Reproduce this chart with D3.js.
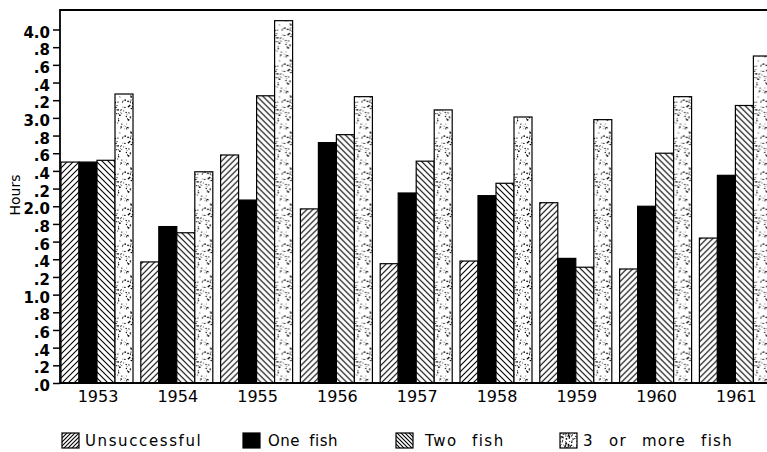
<!DOCTYPE html>
<html>
<head>
<meta charset="utf-8">
<script src="https://cdn.jsdelivr.net/npm/d3@7/dist/d3.min.js"></script>
<style>
  html, body { margin: 0; padding: 0; background: #fff; }
  svg { display: block; }
</style>
</head>
<body>
<svg id="chart" width="767" height="452"></svg>
<script>
// ---------- data ----------
const years = ["1953", "1954", "1955", "1956", "1957", "1958", "1959", "1960", "1961"];
const seriesNames = ["Unsuccessful", "One fish", "Two fish", "3 or more fish"];
const unsuccessful = [2.50, 1.37, 2.58, 1.97, 1.35, 1.38, 2.04, 1.29, 1.64];
const oneFish      = [2.50, 1.77, 2.07, 2.72, 2.15, 2.12, 1.41, 2.00, 2.35];
const twoFish      = [2.52, 1.70, 3.25, 2.81, 2.51, 2.26, 1.31, 2.60, 3.14];
const threeOrMore  = [3.27, 2.39, 4.10, 3.24, 3.09, 3.01, 2.98, 3.24, 3.70];
const yTickValues = [0, 0.2, 0.4, 0.6, 0.8, 1.0, 1.2, 1.4, 1.6, 1.8, 2.0, 2.2, 2.4, 2.6, 2.8, 3.0, 3.2, 3.4, 3.6, 3.8, 4.0];
const yTickLabels = [".0", ".2", ".4", ".6", ".8", "1.0", ".2", ".4", ".6", ".8", "2.0", ".2", ".4", ".6", ".8", "3.0", ".2", ".4", ".6", ".8", "4.0"];
const yAxisTitle = "Hours";

const seriesValues = [unsuccessful, oneFish, twoFish, threeOrMore];
const table = years.map((yr, i) => ({
  year: yr,
  values: seriesNames.map((s, k) => ({ series: s, value: seriesValues[k][i] }))
}));

// ---------- layout ----------
const W = 767, H = 452;
const axisX = 60, baseY = 383, topY = 10;
const svg = d3.select("#chart");
svg.append("rect").attr("width", W).attr("height", H).attr("fill", "#fff");

const x0 = d3.scaleBand().domain(years).range([61, 771.4]).paddingInner(0.0977).paddingOuter(0);
const x1 = d3.scaleBand().domain(seriesNames).range([0, x0.bandwidth()]).padding(0);
const y = d3.scaleLinear().domain([0, 4]).range([baseY, 29.5]);

// ---------- patterns ----------
const defs = svg.append("defs");
function hatch(id, dir, size) {
  const p = defs.append("pattern").attr("id", id).attr("patternUnits", "userSpaceOnUse")
    .attr("width", size).attr("height", size);
  p.append("rect").attr("width", size).attr("height", size).attr("fill", "#fff");
  const s = size;
  const d = dir === "up"
    ? `M-1,1 l2,-2 M0,${s} l${s},-${s} M${s-1},${s+1} l2,-2`
    : `M-1,${s-1} l2,2 M0,0 l${s},${s} M${s-1},-1 l2,2`;
  p.append("path").attr("d", d).attr("stroke", "#000").attr("stroke-width", 1.1).attr("fill", "none");
}
hatch("hatchUp", "up", 6);
hatch("hatchDown", "down", 6);
hatch("hatchUpSm", "up", 4);
hatch("hatchDownSm", "down", 4);

function stipple(id, size, count, seed) {
  const p = defs.append("pattern").attr("id", id).attr("patternUnits", "userSpaceOnUse")
    .attr("width", size).attr("height", size);
  p.append("rect").attr("width", size).attr("height", size).attr("fill", "#fff");
  let st = seed;
  const rnd = () => { st = (st * 1103515245 + 12345) % 2147483648; return st / 2147483648; };
  for (let i = 0; i < count; i++) {
    const cx = rnd() * size, cy = rnd() * size, r = 0.35 + rnd() * 0.55;
    if (rnd() < 0.2) {
      p.append("line").attr("x1", cx).attr("y1", cy).attr("x2", cx + (rnd() - 0.5) * 2.5).attr("y2", cy + 1 + rnd() * 2)
        .attr("stroke", "#000").attr("stroke-width", 0.8);
    } else {
      p.append("circle").attr("cx", cx).attr("cy", cy).attr("r", r).attr("fill", "#000");
    }
  }
}
stipple("dots", 36, 95, 7);
stipple("dotsDense", 16, 60, 3);

const fills = { "Unsuccessful": "url(#hatchUp)", "One fish": "#000", "Two fish": "url(#hatchDown)", "3 or more fish": "url(#dots)" };
const legendFills = { "Unsuccessful": "url(#hatchUpSm)", "One fish": "#000", "Two fish": "url(#hatchDownSm)", "3 or more fish": "url(#dotsDense)" };

// ---------- bars ----------
const groups = svg.append("g").selectAll("g").data(table).join("g")
  .attr("transform", d => `translate(${x0(d.year)},0)`);
groups.selectAll("rect").data(d => d.values).join("rect")
  .attr("x", d => x1(d.series))
  .attr("y", d => y(d.value))
  .attr("width", x1.bandwidth())
  .attr("height", d => y(0) - y(d.value))
  .attr("fill", d => fills[d.series])
  .attr("stroke", "#000")
  .attr("stroke-width", 1.2);

// ---------- frame ----------
svg.append("line").attr("x1", axisX).attr("x2", W).attr("y1", topY).attr("y2", topY)
  .attr("stroke", "#000").attr("stroke-width", 2);
svg.append("line").attr("x1", axisX).attr("x2", axisX).attr("y1", topY - 1).attr("y2", baseY + 1)
  .attr("stroke", "#000").attr("stroke-width", 1.8);
svg.append("line").attr("x1", axisX).attr("x2", W).attr("y1", baseY).attr("y2", baseY)
  .attr("stroke", "#000").attr("stroke-width", 1.8);

// ---------- y axis ----------
const yAxis = d3.axisLeft(y).tickValues(yTickValues)
  .tickFormat((d, i) => yTickLabels[i]).tickSize(7).tickPadding(3);
const ya = svg.append("g").attr("transform", `translate(${axisX},0)`).call(yAxis);
ya.select(".domain").remove();
ya.selectAll(".tick line").attr("stroke", "#000").attr("stroke-width", 1.5);
ya.selectAll(".tick text").attr("fill", "#000")
  .style("font-family", "DejaVu Sans, sans-serif").style("font-size", "15px").style("font-weight", "bold")
  .attr("dy", "0.5em");

svg.append("text").attr("transform", "translate(20,195) rotate(-90)")
  .attr("text-anchor", "middle")
  .style("font-family", "DejaVu Sans, sans-serif").style("font-size", "14px")
  .text(yAxisTitle);

// ---------- x axis labels ----------
const xAxis = d3.axisBottom(x0).tickSize(0).tickPadding(8);
const xa = svg.append("g").attr("transform", `translate(1,${baseY})`).call(xAxis);
xa.select(".domain").remove();
xa.selectAll(".tick text").attr("fill", "#000")
  .style("font-family", "DejaVu Sans, sans-serif").style("font-size", "16px");

// ---------- legend ----------
const legendSwatchX = [62, 243, 396, 560];
const legendTextX = [85, 268, 425, 583];
const legendLetterSp = [1.6, 0.5, 1.5, 1.3];
const legendWordSp = [0, 4, 8, 9];
const lg = svg.append("g");
seriesNames.forEach((s, i) => {
  lg.append("rect").attr("x", legendSwatchX[i]).attr("y", 433).attr("width", 17).attr("height", 15)
    .attr("fill", legendFills[s]).attr("stroke", "#000").attr("stroke-width", 1.2);
  lg.append("text").attr("x", legendTextX[i]).attr("y", 446)
    .style("letter-spacing", legendLetterSp[i] + "px").style("word-spacing", legendWordSp[i] + "px")
    .style("font-family", "DejaVu Sans, sans-serif").style("font-size", "15px")
    .text(s);
});
</script>
</body>
</html>
